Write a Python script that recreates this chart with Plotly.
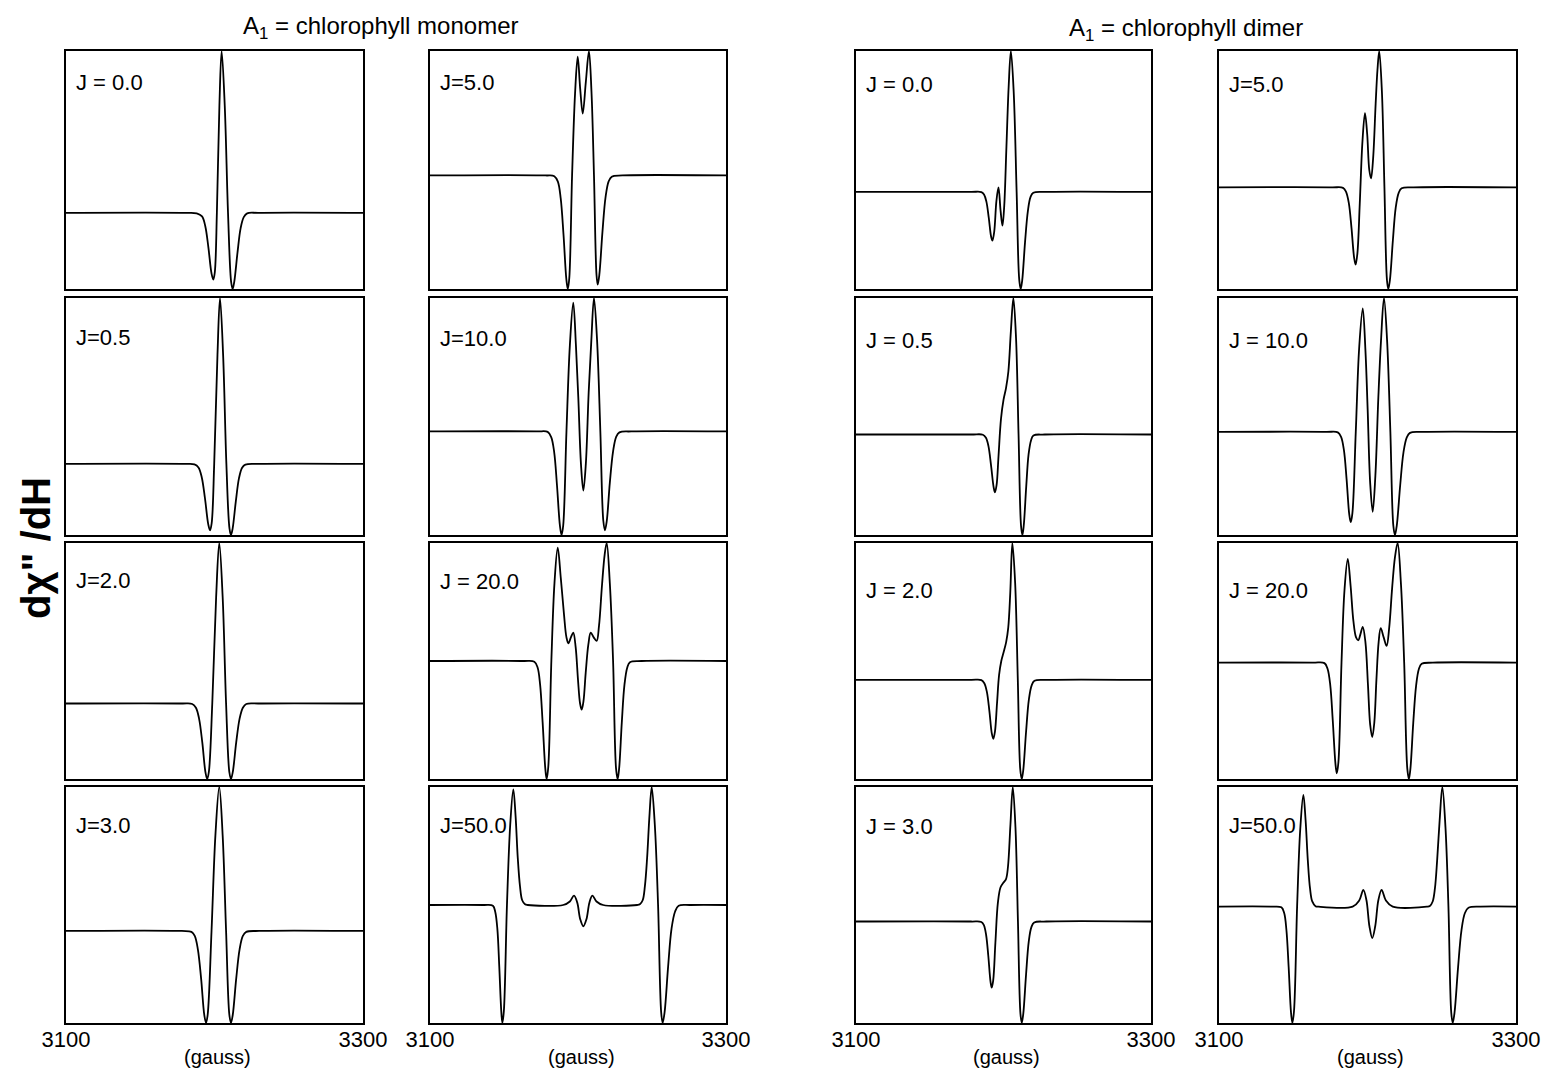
import plotly.graph_objects as go

# ---------------- data (field in gauss, normalised dX''/dH) ----------------
# monomer column 1
MONO_J00_X = [3100, 3180, 3188, 3191.6, 3193.8, 3195.9, 3198.0, 3199.2, 3200.2, 3201.6, 3203.3, 3204.8, 3206.9, 3209.1, 3211.2, 3212.2, 3213.3, 3215.5, 3217.6, 3219.7, 3222.0, 3230, 3300]
MONO_J00_Y = [0.32, 0.32, 0.318, 0.305, 0.264, 0.174, 0.065, 0.04, 0.07, 0.32, 0.77, 1.0, 0.77, 0.32, 0.03, 0.0, 0.03, 0.154, 0.256, 0.302, 0.318, 0.32, 0.32]

MONO_J05_X = [3100, 3180, 3186.5, 3189.2, 3191.4, 3193.6, 3195.8, 3197.0, 3198.1, 3199.8, 3202.0, 3203.7, 3205.8, 3208.0, 3210.1, 3211.1, 3212.2, 3214.4, 3216.5, 3218.6, 3220.8, 3230, 3300]
MONO_J05_Y = [0.30, 0.30, 0.298, 0.285, 0.244, 0.154, 0.045, 0.02, 0.05, 0.30, 0.76, 1.0, 0.76, 0.30, 0.027, 0.0, 0.027, 0.144, 0.24, 0.284, 0.297, 0.30, 0.30]

MONO_J2_X = [3100, 3178, 3185.0, 3187.5, 3189.6, 3191.8, 3193.9, 3195.1, 3196.2, 3198.5, 3201.1, 3203.2, 3205.5, 3207.8, 3210.0, 3211.1, 3212.3, 3214.6, 3216.9, 3219.1, 3221.4, 3230, 3300]
MONO_J2_Y = [0.32, 0.32, 0.318, 0.302, 0.256, 0.154, 0.029, 0.0, 0.03, 0.32, 0.77, 1.0, 0.77, 0.32, 0.029, 0.0, 0.029, 0.154, 0.256, 0.302, 0.318, 0.32, 0.32]

MONO_J3_X = [3100, 3178, 3184.5, 3186.7, 3188.8, 3191.0, 3193.1, 3194.3, 3195.4, 3198.0, 3200.6, 3203.2, 3205.5, 3207.8, 3210.0, 3211.1, 3212.3, 3214.6, 3216.9, 3219.1, 3221.4, 3230, 3300]
MONO_J3_Y = [0.39, 0.39, 0.386, 0.369, 0.312, 0.187, 0.035, 0.0, 0.035, 0.39, 0.794, 1.0, 0.794, 0.39, 0.035, 0.0, 0.035, 0.187, 0.312, 0.369, 0.386, 0.39, 0.39]

# monomer column 2
MONO_J5_X = [3100, 3178, 3184.0, 3186.4, 3188.3, 3190.2, 3192.1, 3193.1, 3194.1, 3196.0, 3198.0, 3199.8, 3201.5, 3203.2, 3205.3, 3207.4, 3209.1, 3210.8, 3212.5, 3213.3, 3214.4, 3216.5, 3218.6, 3220.7, 3222.8, 3230, 3300]
MONO_J5_Y = [0.477, 0.477, 0.474, 0.451, 0.382, 0.229, 0.043, 0.0, 0.045, 0.477, 0.82, 0.976, 0.84, 0.737, 0.87, 1.0, 0.83, 0.477, 0.06, 0.018, 0.059, 0.238, 0.385, 0.452, 0.472, 0.477, 0.477]

MONO_J10_X = [3100, 3172, 3179.5, 3181.9, 3183.9, 3185.8, 3187.8, 3188.9, 3190.0, 3192.2, 3194.5, 3196.8, 3198.6, 3200.2, 3202.0, 3203.6, 3205.3, 3207.2, 3209.0, 3210.8, 3212.9, 3215.1, 3217.1, 3218.2, 3219.4, 3221.5, 3223.7, 3225.8, 3228.0, 3236, 3300]
MONO_J10_Y = [0.437, 0.437, 0.435, 0.413, 0.35, 0.21, 0.039, 0.0, 0.04, 0.437, 0.80, 0.98, 0.80, 0.58, 0.30, 0.187, 0.30, 0.60, 0.82, 1.0, 0.82, 0.437, 0.06, 0.02, 0.057, 0.22, 0.353, 0.414, 0.433, 0.437, 0.437]

MONO_J20_X = [3100, 3163, 3170.5, 3172.7, 3174.4, 3176.1, 3177.9, 3178.8, 3179.9, 3182.0, 3184.1, 3186.3, 3188.4, 3190.5, 3192.2, 3193.5, 3195.2, 3196.8, 3198.4, 3200.0, 3201.4, 3202.5, 3203.7, 3205.2, 3207.0, 3208.6, 3210.6, 3212.6, 3214.2, 3216.2, 3218.0, 3219.4, 3221.5, 3223.7, 3225.7, 3226.8, 3227.8, 3229.6, 3231.4, 3233.3, 3235.1, 3243, 3300]
MONO_J20_Y = [0.5, 0.5, 0.497, 0.4725, 0.40, 0.24, 0.045, 0.0, 0.05, 0.5, 0.83, 0.98, 0.85, 0.70, 0.60, 0.575, 0.60, 0.62, 0.56, 0.42, 0.32, 0.294, 0.33, 0.45, 0.57, 0.62, 0.60, 0.585, 0.65, 0.82, 0.95, 1.0, 0.83, 0.5, 0.045, 0.0, 0.045, 0.24, 0.40, 0.4725, 0.495, 0.5, 0.5]

MONO_J50_X = [3100, 3136, 3142.5, 3144.1, 3145.5, 3146.8, 3148.2, 3148.9, 3149.9, 3152.0, 3154.2, 3156.3, 3157.8, 3159.3, 3160.8, 3162.3, 3164.2, 3166, 3190, 3194.5, 3197.3, 3199.5, 3201.5, 3203.6, 3205.7, 3207.7, 3209.7, 3212.5, 3217, 3240, 3241.8, 3243.7, 3245.2, 3246.7, 3248.3, 3249.8, 3251.9, 3254.1, 3256.2, 3257.2, 3258.5, 3260.9, 3263.2, 3265.6, 3268.0, 3276, 3300]
MONO_J50_Y = [0.5, 0.5, 0.497, 0.47, 0.40, 0.24, 0.045, 0.0, 0.05, 0.5, 0.84, 0.99, 0.88, 0.70, 0.58, 0.52, 0.503, 0.5, 0.5, 0.515, 0.54, 0.51, 0.44, 0.41, 0.44, 0.51, 0.54, 0.515, 0.5, 0.5, 0.503, 0.52, 0.58, 0.70, 0.88, 1.0, 0.84, 0.5, 0.045, 0.0, 0.045, 0.24, 0.40, 0.4725, 0.497, 0.5, 0.5]

# dimer column 3
DIM_J00_X = [3100, 3178, 3185, 3186.8, 3188.4, 3190.0, 3191.6, 3192.5, 3193.7, 3195.2, 3196.6, 3198.0, 3199.3, 3200.5, 3202.0, 3203.5, 3205.0, 3206.9, 3208.9, 3210.7, 3211.7, 3212.7, 3214.6, 3216.5, 3218.3, 3220.2, 3228, 3300]
DIM_J00_Y = [0.408, 0.408, 0.407, 0.397, 0.367, 0.30, 0.22, 0.203, 0.24, 0.37, 0.427, 0.33, 0.266, 0.35, 0.60, 0.85, 1.0, 0.83, 0.408, 0.037, 0.0, 0.037, 0.196, 0.326, 0.386, 0.404, 0.408, 0.408]

DIM_J05_X = [3100, 3178, 3186, 3188.1, 3189.8, 3191.5, 3193.3, 3194.2, 3195.3, 3196.6, 3198.3, 3200.0, 3201.7, 3203.3, 3205.0, 3206.7, 3208.5, 3210.2, 3211.9, 3212.8, 3213.7, 3215.4, 3217.0, 3218.7, 3220.3, 3228, 3300]
DIM_J05_Y = [0.424, 0.424, 0.423, 0.41, 0.375, 0.297, 0.202, 0.18, 0.21, 0.33, 0.49, 0.57, 0.62, 0.69, 0.86, 1.0, 0.83, 0.424, 0.038, 0.0, 0.038, 0.204, 0.34, 0.40, 0.42, 0.424, 0.424]

DIM_J2_X = [3100, 3178, 3185, 3187.0, 3188.7, 3190.4, 3192.1, 3193.1, 3194.2, 3195.6, 3197.0, 3198.5, 3200.2, 3201.8, 3203.2, 3204.6, 3206.0, 3207.9, 3209.7, 3211.4, 3212.4, 3213.4, 3215.3, 3217.2, 3219.1, 3221.0, 3229, 3300]
DIM_J2_Y = [0.42, 0.42, 0.419, 0.406, 0.37, 0.29, 0.192, 0.17, 0.20, 0.32, 0.44, 0.50, 0.54, 0.58, 0.64, 0.79, 1.0, 0.83, 0.42, 0.038, 0.0, 0.038, 0.20, 0.336, 0.397, 0.416, 0.42, 0.42]

DIM_J3_X = [3100, 3178, 3185, 3186.7, 3188.2, 3189.7, 3191.2, 3192.0, 3193.0, 3194.5, 3196.2, 3198.0, 3200.0, 3201.7, 3203.0, 3204.7, 3206.3, 3208.1, 3209.8, 3211.5, 3212.4, 3213.4, 3215.3, 3217.1, 3218.9, 3220.8, 3229, 3300]
DIM_J3_Y = [0.43, 0.43, 0.428, 0.415, 0.374, 0.284, 0.175, 0.15, 0.18, 0.34, 0.51, 0.575, 0.595, 0.61, 0.66, 0.84, 1.0, 0.83, 0.43, 0.039, 0.0, 0.039, 0.206, 0.344, 0.406, 0.426, 0.43, 0.43]

# dimer column 4
DIM_J5_X = [3100, 3176, 3183.5, 3185.5, 3187.4, 3189.2, 3191.0, 3192.0, 3193.2, 3194.8, 3196.6, 3198.3, 3199.8, 3201.2, 3202.4, 3203.8, 3205.5, 3206.7, 3207.9, 3209.7, 3211.4, 3213.1, 3214.0, 3215.1, 3217.1, 3219.0, 3221.0, 3223.0, 3231, 3300]
DIM_J5_Y = [0.427, 0.427, 0.425, 0.409, 0.362, 0.258, 0.131, 0.102, 0.15, 0.36, 0.62, 0.739, 0.65, 0.50, 0.465, 0.55, 0.78, 0.92, 1.0, 0.83, 0.427, 0.038, 0.0, 0.038, 0.205, 0.342, 0.404, 0.423, 0.427, 0.427]

DIM_J10_X = [3100, 3172, 3180, 3182.2, 3184.1, 3185.9, 3187.7, 3188.7, 3189.8, 3192.1, 3194.4, 3196.8, 3198.6, 3200.1, 3201.8, 3203.5, 3205.3, 3207.3, 3209.1, 3211.1, 3213.2, 3215.4, 3217.4, 3218.5, 3219.7, 3222.0, 3224.2, 3226.4, 3228.6, 3237, 3300]
DIM_J10_Y = [0.435, 0.435, 0.433, 0.414, 0.359, 0.237, 0.088, 0.054, 0.09, 0.435, 0.79, 0.956, 0.78, 0.53, 0.22, 0.098, 0.25, 0.58, 0.82, 1.0, 0.82, 0.435, 0.039, 0.0, 0.039, 0.209, 0.348, 0.411, 0.431, 0.435, 0.435]

DIM_J20_X = [3100, 3163, 3171, 3173.1, 3174.9, 3176.6, 3178.4, 3179.3, 3180.4, 3182.5, 3184.5, 3186.7, 3188.6, 3190.5, 3192.3, 3193.8, 3195.3, 3196.8, 3198.6, 3200.3, 3201.8, 3203.2, 3204.6, 3206.0, 3207.5, 3208.9, 3210.9, 3212.9, 3214.6, 3216.6, 3218.5, 3220.3, 3222.5, 3224.7, 3226.8, 3227.9, 3228.9, 3230.8, 3232.7, 3234.6, 3236.5, 3244, 3300]
DIM_J20_Y = [0.493, 0.493, 0.491, 0.467, 0.399, 0.249, 0.066, 0.024, 0.07, 0.493, 0.80, 0.933, 0.82, 0.67, 0.60, 0.588, 0.615, 0.645, 0.58, 0.40, 0.23, 0.178, 0.24, 0.42, 0.58, 0.639, 0.60, 0.564, 0.64, 0.81, 0.94, 1.0, 0.83, 0.493, 0.044, 0.0, 0.044, 0.237, 0.394, 0.466, 0.488, 0.493, 0.493]

DIM_J50_X = [3100, 3135, 3142, 3143.9, 3145.4, 3146.9, 3148.5, 3149.4, 3150.5, 3152.6, 3154.7, 3156.8, 3158.3, 3159.8, 3161.3, 3162.8, 3165, 3167, 3190, 3194.5, 3197.2, 3199.3, 3201.3, 3203.2, 3205.2, 3207.3, 3209.5, 3212.3, 3217, 3240, 3242, 3243.9, 3245.4, 3246.9, 3248.6, 3250.4, 3252.5, 3254.5, 3256.4, 3257.4, 3258.6, 3261.0, 3263.3, 3265.6, 3268.0, 3276, 3300]
DIM_J50_Y = [0.493, 0.493, 0.49, 0.466, 0.394, 0.237, 0.044, 0.0, 0.05, 0.493, 0.82, 0.966, 0.86, 0.69, 0.57, 0.515, 0.495, 0.493, 0.493, 0.52, 0.564, 0.52, 0.41, 0.36, 0.41, 0.52, 0.564, 0.52, 0.493, 0.493, 0.496, 0.515, 0.57, 0.69, 0.86, 1.0, 0.83, 0.493, 0.044, 0.0, 0.044, 0.237, 0.394, 0.466, 0.488, 0.493, 0.493]

# panel labels
COL1_LABELS = ["J = 0.0", "J=0.5", "J=2.0", "J=3.0"]
COL2_LABELS = ["J=5.0", "J=10.0", "J = 20.0", "J=50.0"]
COL3_LABELS = ["J = 0.0", "J = 0.5", "J = 2.0", "J = 3.0"]
COL4_LABELS = ["J=5.0", "J = 10.0", "J = 20.0", "J=50.0"]
X_TICK_VALS = [3100, 3300]
X_TICK_TEXT = ["3100", "3300"]
TITLES = ["A<sub>1</sub> = chlorophyll monomer", "A<sub>1</sub> = chlorophyll dimer"]

SERIES = [
    [(MONO_J00_X, MONO_J00_Y), (MONO_J05_X, MONO_J05_Y), (MONO_J2_X, MONO_J2_Y), (MONO_J3_X, MONO_J3_Y)],
    [(MONO_J5_X, MONO_J5_Y), (MONO_J10_X, MONO_J10_Y), (MONO_J20_X, MONO_J20_Y), (MONO_J50_X, MONO_J50_Y)],
    [(DIM_J00_X, DIM_J00_Y), (DIM_J05_X, DIM_J05_Y), (DIM_J2_X, DIM_J2_Y), (DIM_J3_X, DIM_J3_Y)],
    [(DIM_J5_X, DIM_J5_Y), (DIM_J10_X, DIM_J10_Y), (DIM_J20_X, DIM_J20_Y), (DIM_J50_X, DIM_J50_Y)],
]
LABELS = [COL1_LABELS, COL2_LABELS, COL3_LABELS, COL4_LABELS]

# ---------------- layout (target-image pixels) ----------------
W, H = 1551, 1073
OFF = 8  # page body margin in the browser
COL_PX = [(66, 363), (430, 726), (856, 1151), (1219, 1516)]
ROW_PX = [(51, 289), (298, 535), (543, 779), (787, 1023)]
LABEL_DY = [[32, 39, 37, 38], [32, 40, 38, 38], [33, 42, 47, 39], [33, 42, 47, 38]]
FONT = "Liberation Sans"


def px_x(p):
    return (p - OFF) / W


def px_y(p):
    return 1 - (p - OFF) / H


fig = go.Figure()
layout = {}
annotations = []

n = 0
for c in range(4):
    for r in range(4):
        n += 1
        xs, ys = SERIES[c][r]
        xa = "x" if n == 1 else f"x{n}"
        ya = "y" if n == 1 else f"y{n}"
        fig.add_trace(go.Scatter(
            x=xs, y=ys, mode="lines",
            line=dict(color="black", width=1.8, shape="spline", smoothing=1.0),
            xaxis=xa, yaxis=ya, showlegend=False, hoverinfo="skip"))
        x0, x1 = COL_PX[c]
        y0, y1 = ROW_PX[r]
        bottom = (r == 3)
        layout["xaxis" if n == 1 else f"xaxis{n}"] = dict(
            domain=[px_x(x0), px_x(x1)], range=[3100, 3300], anchor=ya,
            showgrid=False, zeroline=False, showline=True, mirror=True,
            linecolor="black", linewidth=2, ticks="", automargin=False,
            tickvals=X_TICK_VALS if bottom else [],
            ticktext=X_TICK_TEXT if bottom else [],
            showticklabels=bottom, ticklabelstandoff=-4,
            tickfont=dict(family=FONT, size=22, color="black"))
        layout["yaxis" if n == 1 else f"yaxis{n}"] = dict(
            domain=[px_y(y1), px_y(y0)], range=[0, 1], anchor=xa,
            showgrid=False, zeroline=False, showline=True, mirror=True,
            linecolor="black", linewidth=2, ticks="", showticklabels=False,
            automargin=False)
        annotations.append(dict(
            text=LABELS[c][r], xref="paper", yref="paper",
            x=px_x(x0 + 8), y=px_y(y0 + LABEL_DY[c][r]),
            xanchor="left", yanchor="middle", showarrow=False,
            font=dict(family=FONT, size=22, color="black")))
    # (gauss) label under each column
    annotations.append(dict(
        text="(gauss)", xref="paper", yref="paper",
        x=px_x((COL_PX[c][0] + COL_PX[c][1]) / 2 + 3), y=px_y(1057),
        xanchor="center", yanchor="middle", showarrow=False,
        font=dict(family=FONT, size=20, color="black")))

# group titles
annotations.append(dict(text=TITLES[0], xref="paper", yref="paper",
                        x=px_x(380), y=px_y(27), xanchor="center", yanchor="middle",
                        showarrow=False, font=dict(family=FONT, size=24, color="black")))
annotations.append(dict(text=TITLES[1], xref="paper", yref="paper",
                        x=px_x(1186), y=px_y(29), xanchor="center", yanchor="middle",
                        showarrow=False, font=dict(family=FONT, size=24, color="black")))
# y label
annotations.append(dict(text="<b>dχ\" /dH</b>", xref="paper", yref="paper",
                        x=px_x(36), y=px_y(548), xanchor="center", yanchor="middle",
                        textangle=-90, showarrow=False,
                        font=dict(family=FONT, size=40, color="black")))

fig.update_layout(
    width=W, height=H, autosize=False,
    margin=dict(l=0, r=0, t=0, b=0, pad=0, autoexpand=False),
    paper_bgcolor="white", plot_bgcolor="white",
    annotations=annotations, showlegend=False,
    **layout)

fig.write_html("out.html")
